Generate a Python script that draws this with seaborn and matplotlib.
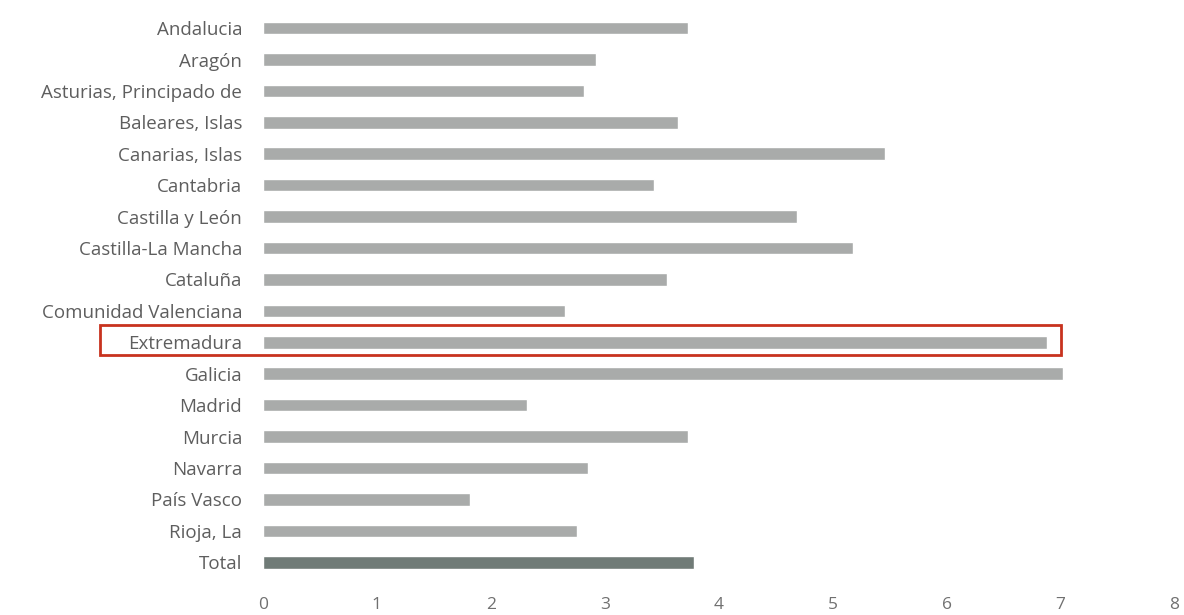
import matplotlib
matplotlib.use("Agg")
import matplotlib.pyplot as plt
import matplotlib.patches as mpatches
import matplotlib.transforms as mtransforms
import pandas as pd
import seaborn as sns

regions = [
    "Andalucia", "Aragón", "Asturias, Principado de", "Baleares, Islas",
    "Canarias, Islas", "Cantabria", "Castilla y León", "Castilla-La Mancha",
    "Cataluña", "Comunidad Valenciana", "Extremadura", "Galicia", "Madrid",
    "Murcia", "Navarra", "País Vasco", "Rioja, La", "Total",
]
values = [3.73, 2.92, 2.82, 3.64, 5.46, 3.43, 4.69, 5.18, 3.55, 2.65,
          6.88, 7.02, 2.32, 3.73, 2.85, 1.82, 2.76, 3.78]
x_ticks = [0, 1, 2, 3, 4, 5, 6, 7, 8]
highlight = "Extremadura"

df = pd.DataFrame({"region": regions, "value": values})
palette = {r: ("#6e7d77" if r == "Total" else "#a9abaa") for r in regions}

sns.set_theme(style="white")
plt.rcParams["font.family"] = ["Open Sans", "DejaVu Sans"]

fig, ax = plt.subplots(figsize=(11.84, 6.15), dpi=100)
fig.subplots_adjust(left=0.222, right=0.992, top=0.985, bottom=0.05)

sns.barplot(data=df, x="value", y="region", hue="region", palette=palette,
            legend=False, width=0.4, ax=ax)

ax.set_xlim(0, 8)
ax.set_ylim(len(regions) - 0.3, -0.6)
ax.set_xticks(x_ticks)
ax.set_xlabel("")
ax.set_ylabel("")
sns.despine(ax=ax, left=True, bottom=True)
ax.tick_params(axis="y", length=0, pad=15, labelsize=13.5, labelcolor="#5e5e5e")
ax.tick_params(axis="x", length=0, pad=9, labelsize=12.5, labelcolor="#707070")

# red box around the highlighted row
idx = regions.index(highlight)
trans = mtransforms.blended_transform_factory(ax.transAxes, ax.transData)
rect = mpatches.Rectangle((-0.179, idx - 0.55), 0.876 + 0.179, 0.97,
                          transform=trans, fill=False, edgecolor="#c8321e",
                          linewidth=2, clip_on=False)
ax.add_patch(rect)

fig.savefig("out.png", dpi=100)
